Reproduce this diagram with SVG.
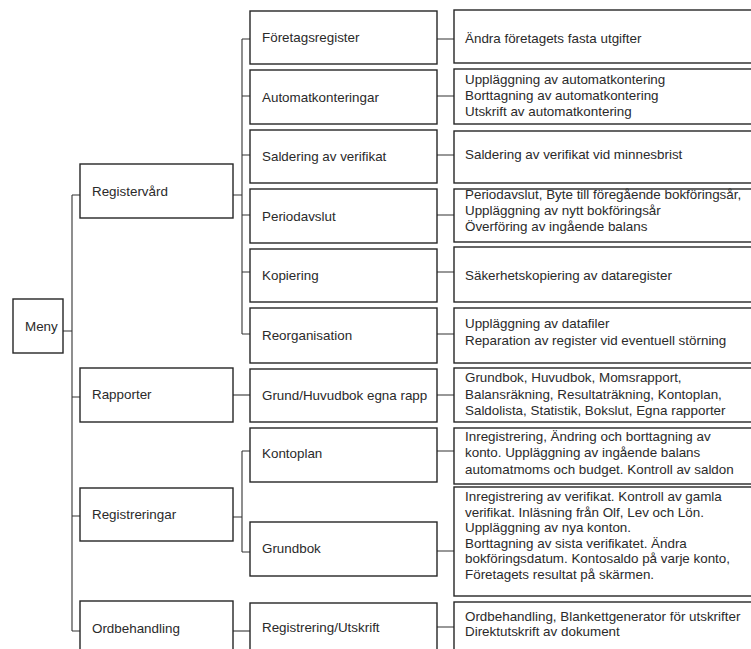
<svg xmlns="http://www.w3.org/2000/svg" width="751" height="649" viewBox="0 0 751 649">
<style>
  .box { fill: #ffffff; stroke: #262626; stroke-width: 1.4; }
  .conn { fill: none; stroke: #333333; stroke-width: 1.1; }
  text { font-family: "Liberation Sans", Arial, sans-serif; font-size: 13.4px; fill: #2a2a2a; }
</style>
<rect x="0" y="0" width="751" height="649" fill="#ffffff"/>

<g id="connectors">
  <!-- Meny to level 1 -->
  <path class="conn" d="M63 331 H72 M72 195 V631 M72 195 H80 M72 397 H80 M72 516 H80 M72 631 H80"/>
  <!-- Registervård to level 2 -->
  <path class="conn" d="M233 195 H242 M242 39 V334 M242 39 H250 M242 96 H250 M242 155 H250 M242 215 H250 M242 272 H250 M242 334 H250"/>
  <!-- Rapporter -->
  <path class="conn" d="M233 395 H250"/>
  <!-- Registreringar -->
  <path class="conn" d="M233 517 H242 M242 451 V552 M242 451 H250 M242 552 H250"/>
  <!-- Ordbehandling -->
  <path class="conn" d="M233 631 H250"/>
  <!-- level 2 to level 3 -->
  <path class="conn" d="M437 39 H454 M437 96 H454 M437 155 H454 M437 215 H454 M437 272 H454 M437 334 H454 M437 395 H454 M437 451 H454 M437 551 H454 M437 627 H454"/>
</g>

<g id="meny">
  <rect class="box" x="13" y="299" width="50" height="54"/>
  <text x="25" y="331">Meny</text>
</g>

<g id="registervard">
  <rect class="box" x="80" y="164" width="153" height="54"/>
  <text x="92" y="196">Registervård</text>
</g>
<g id="rapporter">
  <rect class="box" x="80" y="368" width="153" height="54"/>
  <text x="92" y="399">Rapporter</text>
</g>
<g id="registreringar">
  <rect class="box" x="80" y="488" width="153" height="53"/>
  <text x="92" y="519">Registreringar</text>
</g>
<g id="ordbehandling">
  <rect class="box" x="80" y="601" width="153" height="60"/>
  <text x="92" y="633">Ordbehandling</text>
</g>

<g id="foretagsregister">
  <rect class="box" x="250" y="11" width="187" height="53"/>
  <text x="262" y="42">Företagsregister</text>
</g>
<g id="automatkonteringar">
  <rect class="box" x="250" y="70" width="187" height="54"/>
  <text x="262" y="101.5">Automatkonteringar</text>
</g>
<g id="saldering">
  <rect class="box" x="250" y="130" width="187" height="53"/>
  <text x="262" y="161">Saldering av verifikat</text>
</g>
<g id="periodavslut">
  <rect class="box" x="250" y="189" width="187" height="54"/>
  <text x="262" y="220.5">Periodavslut</text>
</g>
<g id="kopiering">
  <rect class="box" x="250" y="249" width="187" height="53"/>
  <text x="262" y="280">Kopiering</text>
</g>
<g id="reorganisation">
  <rect class="box" x="250" y="308" width="187" height="55"/>
  <text x="262" y="339.5">Reorganisation</text>
</g>
<g id="grundhuvudbok">
  <rect class="box" x="250" y="369" width="187" height="53"/>
  <text x="262" y="399.5">Grund/Huvudbok egna rapp</text>
</g>
<g id="kontoplan">
  <rect class="box" x="250" y="428" width="187" height="54"/>
  <text x="262" y="458">Kontoplan</text>
</g>
<g id="grundbok">
  <rect class="box" x="250" y="522" width="187" height="54"/>
  <text x="262" y="553">Grundbok</text>
</g>
<g id="registreringutskrift">
  <rect class="box" x="250" y="603" width="187" height="58"/>
  <text x="262" y="632">Registrering/Utskrift</text>
</g>

<g id="d-foretag">
  <rect class="box" x="454" y="10" width="310" height="53"/>
  <text x="465" y="43">Ändra företagets fasta utgifter</text>
</g>
<g id="d-automat">
  <rect class="box" x="454" y="69" width="310" height="55"/>
  <text x="465" y="84">Uppläggning av automatkontering</text>
  <text x="465" y="100">Borttagning av automatkontering</text>
  <text x="465" y="116">Utskrift av automatkontering</text>
</g>
<g id="d-saldering">
  <rect class="box" x="454" y="131" width="310" height="52"/>
  <text x="465" y="159">Saldering av verifikat vid minnesbrist</text>
</g>
<g id="d-periodavslut">
  <rect class="box" x="454" y="189" width="310" height="53"/>
  <text x="465" y="199">Periodavslut, Byte till föregående bokföringsår,</text>
  <text x="465" y="215">Uppläggning av nytt bokföringsår</text>
  <text x="465" y="231">Överföring av ingående balans</text>
</g>
<g id="d-kopiering">
  <rect class="box" x="454" y="247" width="310" height="55"/>
  <text x="465" y="280">Säkerhetskopiering av dataregister</text>
</g>
<g id="d-reorganisation">
  <rect class="box" x="454" y="308" width="310" height="55"/>
  <text x="465" y="328">Uppläggning av datafiler</text>
  <text x="465" y="345">Reparation av register vid eventuell störning</text>
</g>
<g id="d-grundhuvudbok">
  <rect class="box" x="454" y="368" width="310" height="54"/>
  <text x="465" y="382">Grundbok, Huvudbok, Momsrapport,</text>
  <text x="465" y="398.5">Balansräkning, Resultaträkning, Kontoplan,</text>
  <text x="465" y="414.5">Saldolista, Statistik, Bokslut, Egna rapporter</text>
</g>
<g id="d-kontoplan">
  <rect class="box" x="454" y="428" width="310" height="56"/>
  <text x="465" y="441">Inregistrering, Ändring och borttagning av</text>
  <text x="465" y="457">konto. Uppläggning av ingående balans</text>
  <text x="465" y="474">automatmoms och budget. Kontroll av saldon</text>
</g>
<g id="d-grundbok">
  <rect class="box" x="454" y="487" width="310" height="109"/>
  <text x="465" y="501">Inregistrering av verifikat. Kontroll av gamla</text>
  <text x="465" y="516.5">verifikat. Inläsning från Olf, Lev och Lön.</text>
  <text x="465" y="532">Uppläggning av nya konton.</text>
  <text x="465" y="547.5">Borttagning av sista verifikatet. Ändra</text>
  <text x="465" y="563">bokföringsdatum. Kontosaldo på varje konto,</text>
  <text x="465" y="578.5">Företagets resultat på skärmen.</text>
</g>
<g id="d-registrering">
  <rect class="box" x="454" y="602" width="310" height="60"/>
  <text x="465" y="621">Ordbehandling, Blankettgenerator för utskrifter</text>
  <text x="465" y="636">Direktutskrift av dokument</text>
</g>
</svg>
